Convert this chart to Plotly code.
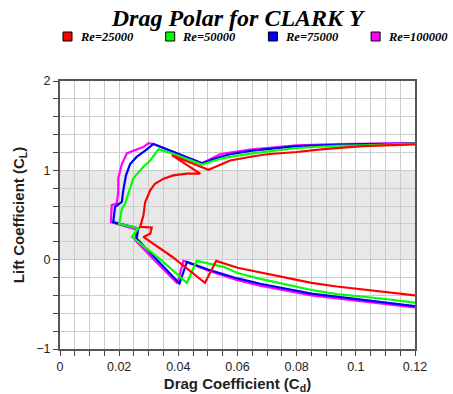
import plotly.graph_objects as go

# Drag polar data for the CLARK Y airfoil at four Reynolds numbers.
# Each series runs from the most negative angle of attack to post-stall.
series_names = ["Re=25000", "Re=50000", "Re=75000", "Re=100000"]
series_colors = ["#ff0000", "#00ff00", "#0000ff", "#ff00ff"]

cd_re25k = [0.120, 0.110, 0.100, 0.0936, 0.085, 0.075, 0.0677, 0.060, 0.0528,
            0.049, 0.038, 0.0282, 0.0305, 0.031, 0.0271, 0.0282, 0.0288, 0.0305,
            0.0321, 0.035, 0.0383, 0.0429, 0.0474, 0.0378, 0.0502, 0.053, 0.0575,
            0.065, 0.070, 0.080, 0.090, 0.1025, 0.110, 0.120]
cl_re25k = [-0.40, -0.365, -0.325, -0.30, -0.26, -0.19, -0.147, -0.09, -0.013,
            -0.26, 0.03, 0.255, 0.29, 0.36, 0.367, 0.497, 0.646, 0.776,
            0.85, 0.907, 0.944, 0.963, 0.963, 1.17, 1.007, 1.05, 1.11,
            1.155, 1.18, 1.205, 1.24, 1.27, 1.28, 1.29]

cd_re50k = [0.120, 0.110, 0.0936, 0.085, 0.0677, 0.060, 0.0553, 0.0462,
            0.0429, 0.034, 0.0243, 0.0265, 0.0200, 0.0209, 0.022, 0.0231,
            0.0248, 0.0282, 0.0305, 0.0333, 0.0378, 0.048, 0.0541, 0.0575,
            0.065, 0.080, 0.0936, 0.1025, 0.120]
cl_re50k = [-0.48, -0.44, -0.385, -0.34, -0.215, -0.15, -0.08, -0.013,
            -0.26, 0.0, 0.255, 0.35, 0.40, 0.57, 0.628, 0.74,
            0.91, 1.04, 1.11, 1.235, 1.19, 1.065, 1.13, 1.15,
            1.19, 1.25, 1.275, 1.28, 1.30]

cd_re75k = [0.120, 0.110, 0.0936, 0.085, 0.0677, 0.060, 0.050, 0.0429,
            0.0404, 0.033, 0.0259, 0.0265, 0.018, 0.0186, 0.0209, 0.0214,
            0.0223, 0.0237, 0.0259, 0.0288, 0.0316, 0.048, 0.0541, 0.0575,
            0.065, 0.080, 0.0936, 0.1025, 0.120]
cl_re75k = [-0.52, -0.48, -0.415, -0.38, -0.27, -0.21, -0.11, -0.025,
            -0.266, -0.01, 0.237, 0.35, 0.42, 0.59, 0.646, 0.777,
            0.944, 1.07, 1.15, 1.22, 1.295, 1.08, 1.15, 1.18,
            1.22, 1.27, 1.29, 1.295, 1.30]

cd_re100k = [0.120, 0.110, 0.0936, 0.085, 0.0677, 0.060, 0.050, 0.0417,
             0.0397, 0.032, 0.0254, 0.0259, 0.0172, 0.0175, 0.0192, 0.0197,
             0.0197, 0.0209, 0.0226, 0.0248, 0.0282, 0.0299, 0.0316, 0.048,
             0.0541, 0.0575, 0.065, 0.080, 0.0936, 0.120]
cl_re100k = [-0.535, -0.50, -0.435, -0.40, -0.29, -0.23, -0.12, -0.013,
             -0.266, -0.01, 0.218, 0.337, 0.42, 0.61, 0.628, 0.76,
             0.91, 1.07, 1.19, 1.22, 1.26, 1.305, 1.295, 1.08,
             1.18, 1.20, 1.235, 1.28, 1.295, 1.305]

series_cd = [cd_re25k, cd_re50k, cd_re75k, cd_re100k]
series_cl = [cl_re25k, cl_re50k, cl_re75k, cl_re100k]

x_ticks = [0, 0.02, 0.04, 0.06, 0.08, 0.1, 0.12]
x_tick_labels = ["0", "0.02", "0.04", "0.06", "0.08", "0.1", "0.12"]
y_ticks = [-1, 0, 1, 2]
y_tick_labels = ["\u22121", "0", "1", "2"]

W, H = 453, 394
M_L, M_R, M_T, M_B = 60, 38, 81, 45
PW, PH = W - M_L - M_R, H - M_T - M_B


def px_x(p):
    return (p - M_L) / PW


def px_y(p):
    return (H - M_B - p) / PH


fig = go.Figure()

# draw highest Re first so the lower-Re curves sit on top
for i in reversed(range(len(series_names))):
    fig.add_trace(go.Scatter(
        x=series_cd[i], y=series_cl[i], mode="lines", name=series_names[i],
        line=dict(color=series_colors[i], width=2.2), showlegend=False,
        hoverinfo="x+y+name",
    ))

# shaded band between Cl = 0 and Cl = 1
fig.add_shape(type="rect", xref="x domain", yref="y", x0=0, x1=1, y0=0, y1=1,
              fillcolor="#e8e8e8", line_width=0, layer="below")

# legend row: coloured squares with labels
legend_font = dict(family="Liberation Serif", size=12.5, color="#000",
                   weight="bold", style="italic")
for i, name in enumerate(series_names):
    x0 = 63 + i * 102.7
    fig.add_shape(type="rect", xref="paper", yref="paper",
                  x0=px_x(x0), x1=px_x(x0 + 9), y0=px_y(41), y1=px_y(32),
                  fillcolor=series_colors[i], line=dict(color="#000", width=1))
    fig.add_annotation(xref="paper", yref="paper", x=px_x(x0 + 14.5),
                       y=px_y(37), xanchor="left", yanchor="middle",
                       text=name, showarrow=False, font=legend_font)

axis_common = dict(
    showgrid=True, gridcolor="#cccccc", gridwidth=1.3,
    showline=True, linecolor="#555", linewidth=2, mirror=True,
    ticks="outside", ticklen=5, tickwidth=1.3, tickcolor="#444",
    tickfont=dict(family="Liberation Sans", size=12.5, color="#222"),
    zeroline=False,
)

axis_title_font = dict(family="Liberation Sans", size=15, color="#222",
                       weight="bold")

fig.update_xaxes(
    range=[0, 0.12], tickvals=x_ticks, ticktext=x_tick_labels,
    minor=dict(dtick=0.005, tick0=0, showgrid=True, gridcolor="#cccccc",
               gridwidth=1.3, ticks="outside", ticklen=5, tickcolor="#444"),
    title=dict(text="Drag Coefficient (C<sub>d</sub>)", standoff=6,
               font=axis_title_font),
    **axis_common,
)
fig.update_yaxes(
    range=[-1, 2], tickvals=y_ticks, ticktext=y_tick_labels,
    minor=dict(dtick=0.2, tick0=0, showgrid=True, gridcolor="#cccccc",
               gridwidth=1.3, ticks="outside", ticklen=5, tickcolor="#444"),
    title=dict(text="Lift Coefficient (C<sub>L</sub>)", standoff=8,
               font=axis_title_font),
    **axis_common,
)

fig.update_layout(
    width=W, height=H,
    margin=dict(l=M_L, r=M_R, t=M_T, b=M_B, autoexpand=False),
    paper_bgcolor="white", plot_bgcolor="white",
    title=dict(text="Drag Polar for CLARK Y", x=0.5, xref="paper",
               y=1 - 18 / H, yref="container", yanchor="middle",
               font=dict(family="Liberation Serif", size=24, color="#000",
                         weight="bold", style="italic")),
    showlegend=False,
)

fig.write_html("out.html")
